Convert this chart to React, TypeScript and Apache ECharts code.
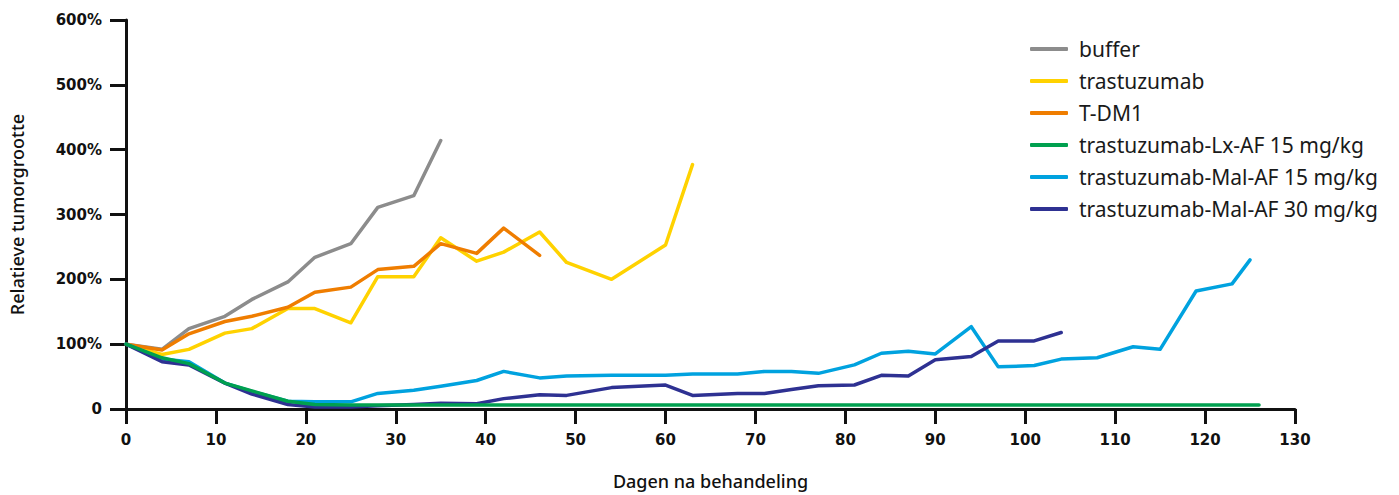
import React, { useEffect, useRef } from "react";
import * as echarts from "echarts";

const seriesNames = [
  "buffer",
  "trastuzumab",
  "T-DM1",
  "trastuzumab-Lx-AF 15 mg/kg",
  "trastuzumab-Mal-AF 15 mg/kg",
  "trastuzumab-Mal-AF 30 mg/kg",
];
const seriesColors = ["#8c8c8c", "#ffd200", "#ef7d00", "#00a04f", "#00a2df", "#2e3192"];

const xTicks = [0, 10, 20, 30, 40, 50, 60, 70, 80, 90, 100, 110, 120, 130];

const bufferDays = [0, 4, 7, 11, 14, 18, 21, 25, 28, 32, 35];
const bufferVals = [100, 92, 124, 143, 169, 196, 234, 255, 311, 329, 414];

const trasDays = [0, 4, 7, 11, 14, 18, 21, 25, 28, 32, 35, 39, 42, 46, 49, 54, 60, 63];
const trasVals = [100, 84, 92, 117, 124, 155, 155, 133, 204, 204, 264, 228, 242, 273, 226, 200, 253, 377];

const tdm1Days = [0, 4, 7, 11, 14, 18, 21, 25, 28, 32, 35, 39, 42, 46];
const tdm1Vals = [100, 91, 116, 135, 143, 157, 180, 188, 215, 220, 255, 240, 279, 237];

const lxDays = [0, 4, 7, 11, 14, 18, 21, 25, 28, 32, 35, 39, 42, 46, 49, 53, 56, 60, 63, 67, 70, 74, 77, 81, 84, 88, 91, 95, 98, 102, 105, 109, 112, 116, 119, 123, 126];
const lxVals = [100, 79, 70, 40, 28, 12, 7, 6, 6, 6, 6, 6, 6, 6, 6, 6, 6, 6, 6, 6, 6, 6, 6, 6, 6, 6, 6, 6, 6, 6, 6, 6, 6, 6, 6, 6, 6];

const mal15Days = [0, 4, 7, 11, 14, 18, 21, 25, 28, 32, 35, 39, 42, 46, 49, 54, 60, 63, 68, 71, 74, 77, 81, 84, 87, 90, 94, 97, 101, 104, 108, 112, 115, 119, 123, 125];
const mal15Vals = [100, 77, 73, 40, 27, 12, 11, 11, 24, 29, 35, 44, 58, 48, 51, 52, 52, 54, 54, 58, 58, 55, 68, 86, 89, 85, 127, 65, 67, 77, 79, 96, 92, 182, 193, 230];

const mal30Days = [0, 4, 7, 11, 14, 18, 21, 25, 28, 32, 35, 39, 42, 46, 49, 54, 60, 63, 68, 71, 74, 77, 81, 84, 87, 90, 94, 97, 101, 104];
const mal30Vals = [100, 73, 68, 40, 23, 7, 3, 3, 5, 7, 9, 8, 16, 22, 21, 33, 37, 21, 24, 24, 30, 36, 37, 52, 51, 76, 81, 105, 105, 118];

const allDays = [bufferDays, trasDays, tdm1Days, lxDays, mal15Days, mal30Days];
const allVals = [bufferVals, trasVals, tdm1Vals, lxVals, mal15Vals, mal30Vals];
const zOrder = [2, 3, 4, 7, 5, 6];

export default function App() {
  const ref = useRef<HTMLDivElement>(null);
  useEffect(() => {
    if (!ref.current) return;
    document.body.style.margin = "0";
    document.body.style.overflow = "hidden";
    document.documentElement.style.overflow = "hidden";
    const chart = echarts.init(ref.current, undefined, { renderer: "svg" });
    const axisFont = "'DejaVu Sans', 'Noto Sans', sans-serif";
    const textFont = "'Noto Sans', sans-serif";
    chart.setOption({
      animation: false,
      backgroundColor: "#ffffff",
      grid: { left: 122, right: 104, top: 20, bottom: 85, containLabel: false },
      legend: {
        orient: "vertical",
        left: 1030,
        top: 38,
        padding: 0,
        itemWidth: 38,
        itemHeight: 4,
        itemGap: 10,
        icon: "roundRect",
        data: seriesNames,
        textStyle: { fontFamily: textFont, fontSize: 21, color: "#1a1a1a", lineHeight: 22, padding: [0, 0, 0, 6] },
      },
      xAxis: {
        type: "value",
        min: 0,
        max: 130,
        interval: 10,
        name: "Dagen na behandeling",
        nameLocation: "middle",
        nameGap: 63,
        nameTextStyle: { fontFamily: textFont, fontSize: 18, color: "#111", fontWeight: 500 },
        axisLine: { show: true, onZero: false, lineStyle: { color: "#111", width: 3 } },
        axisTick: { show: true, length: 15, lineStyle: { color: "#111", width: 3 } },
        axisLabel: {
          margin: 23,
          fontFamily: axisFont,
          fontSize: 15,
          fontWeight: "bold",
          color: "#111",
          customValues: xTicks,
        },
        splitLine: { show: false },
      },
      yAxis: {
        type: "value",
        min: 0,
        max: 600,
        interval: 100,
        name: "Relatieve tumorgrootte",
        nameLocation: "middle",
        nameGap: 100,
        nameTextStyle: { fontFamily: textFont, fontSize: 18, color: "#111", fontWeight: 500 },
        axisLine: { show: true, lineStyle: { color: "#111", width: 3 } },
        axisTick: { show: true, length: 16, lineStyle: { color: "#111", width: 3 } },
        axisLabel: {
          margin: 24,
          fontFamily: axisFont,
          fontSize: 15,
          fontWeight: "bold",
          color: "#111",
          formatter: (v: number) => (v === 0 ? "0" : v + "%"),
        },
        splitLine: { show: false },
      },
      series: seriesNames.map((name, i) => ({
        name,
        type: "line",
        z: zOrder[i],
        data: allDays[i].map((d, j) => [d, allVals[i][j]]),
        showSymbol: false,
        symbol: "none",
        color: seriesColors[i],
        lineStyle: { width: 3.5, color: seriesColors[i], cap: "round", join: "round" },
      })),
    });
    return () => chart.dispose();
  }, []);
  return (
    <div
      ref={ref}
      style={{ position: "fixed", left: 0, top: 0, width: 1399, height: 495 }}
    />
  );
}
